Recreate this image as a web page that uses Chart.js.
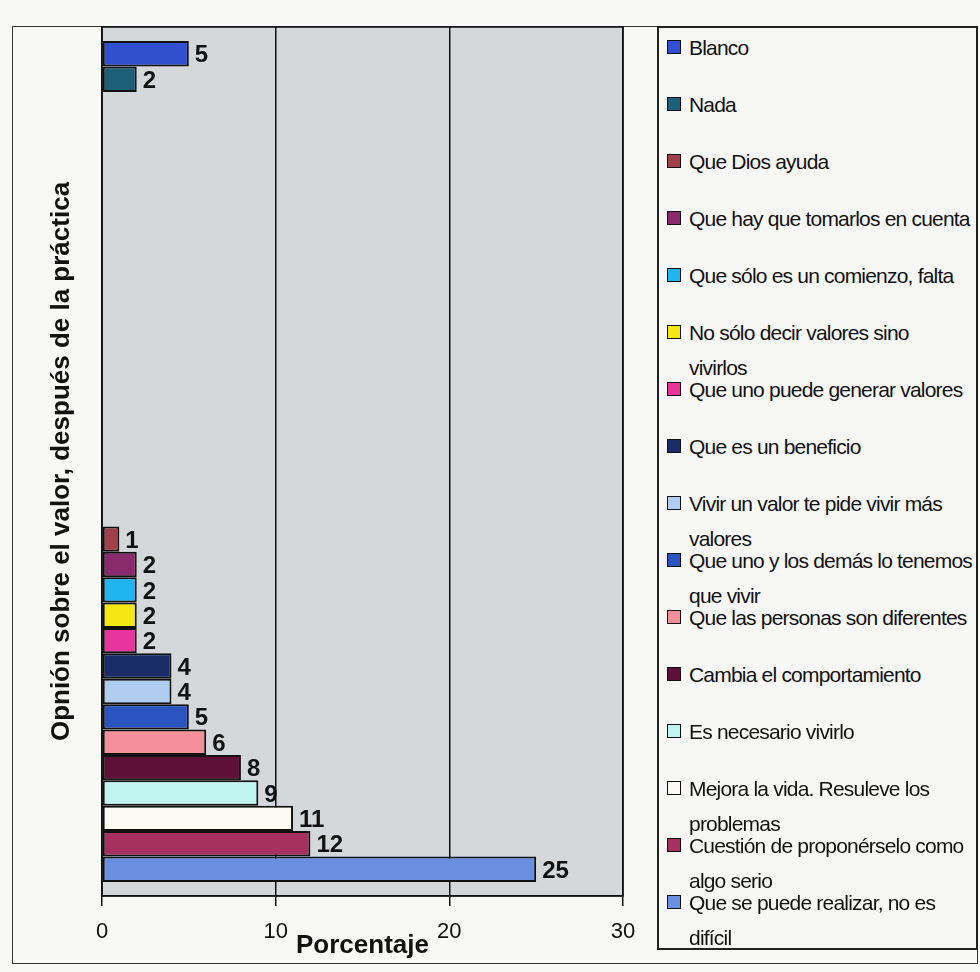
<!DOCTYPE html>
<html>
<head>
<meta charset="utf-8">
<script src="https://cdn.jsdelivr.net/npm/chart.js@4.4.1/dist/chart.umd.min.js"></script>
<style>
    html, body { margin: 0; padding: 0; background: #f8f8f6; }
    #wrap { position: relative; width: 980px; height: 972px; }
    #frame { position: absolute; left: 12px; top: 26px; width: 966px; height: 938px; border: 1.5px solid #333; box-sizing: border-box; }
    #chart { position: absolute; left: 0; top: 0; }
    #legend { position: absolute; left: 657px; top: 26px; width: 321px; height: 924px; border: 2px solid #222; box-sizing: border-box; background: #f7f7f6; }
    .item { position: absolute; left: 8px; width: 300px; font-family: Arial, "Liberation Sans", sans-serif; font-size: 21px; letter-spacing: -0.8px; line-height: 35px; color: #111; white-space: nowrap; }
    .box { position: absolute; left: 0; top: 10px; width: 12px; height: 12px; border: 1.5px solid #111; }
    .txt { position: absolute; left: 22px; }
</style>
</head>
<body>
<div id="wrap">
    <div id="frame"></div>
    <canvas id="chart" width="980" height="972"></canvas>
    <div id="legend"></div>
</div>
<script>
    // two groups on the category axis (labels hidden)
    const categories = ['', ''];

    const seriesNames = [
        'Blanco',
        'Nada',
        'Que Dios ayuda',
        'Que hay que tomarlos en cuenta',
        'Que sólo es un comienzo, falta',
        'No sólo decir valores sino vivirlos',
        'Que uno puede generar valores',
        'Que es un beneficio',
        'Vivir un valor te pide vivir más valores',
        'Que uno y los demás lo tenemos que vivir',
        'Que las personas son diferentes',
        'Cambia el comportamiento',
        'Es necesario vivirlo',
        'Mejora la vida. Resuleve los problemas',
        'Cuestión de proponérselo como algo serio',
        'Que se puede realizar, no es difícil'
    ];

    // percentages, upper group and lower group
    const upperValues = [5, 2, null, null, null, null, null, null, null, null, null, null, null, null, null, null];
    const lowerValues = [null, null, 1, 2, 2, 2, 2, 4, 4, 5, 6, 8, 9, 11, 12, 25];

    const seriesColors = [
        '#3050d0', '#1d5f78', '#a04048', '#8a2a6c', '#20b4f0', '#f5e812', '#e8349c', '#1a2c68',
        '#b0ccf0', '#2a55c0', '#f4909a', '#5e1038', '#c0f4f0', '#fbfbf4', '#a83060', '#6a8ee0'
    ];

    const xTicks = [0, 10, 20, 30];

    // words kept on the first legend line (0 = no wrap)
    const legendFirstLineWords = [0, 0, 0, 0, 0, 5, 0, 0, 7, 7, 0, 0, 0, 5, 4, 6];

    const datasets = seriesNames.map((name, i) => ({
        label: name,
        data: [upperValues[i], lowerValues[i]],
        backgroundColor: seriesColors[i],
        borderColor: '#111',
        borderWidth: 2,
        borderSkipped: false,
        barPercentage: 1,
        categoryPercentage: 0.935
    }));

    // grey plot area with black frame
    const plotArea = {
        id: 'plotArea',
        beforeDraw(chart) {
            const { ctx, chartArea: a } = chart;
            ctx.save();
            ctx.fillStyle = '#d5d8da';
            ctx.fillRect(a.left, a.top, a.right - a.left, a.bottom - a.top);
            ctx.restore();
        },
        afterDraw(chart) {
            const { ctx, chartArea: a } = chart;
            ctx.save();
            ctx.strokeStyle = '#111';
            ctx.lineWidth = 1.5;
            ctx.strokeRect(a.left, a.top, a.right - a.left, a.bottom - a.top);
            ctx.restore();
        }
    };

    // value labels at the end of each bar
    const barValues = {
        id: 'barValues',
        afterDatasetsDraw(chart) {
            const ctx = chart.ctx;
            ctx.save();
            ctx.font = 'bold 24px Arial, "Liberation Sans", sans-serif';
            ctx.fillStyle = '#111';
            ctx.textBaseline = 'middle';
            chart.data.datasets.forEach((ds, i) => {
                chart.getDatasetMeta(i).data.forEach((bar, j) => {
                    const v = ds.data[j];
                    if (v === null || v === undefined) return;
                    ctx.fillText(String(v), bar.x + 6, bar.y + 2);
                });
            });
            ctx.restore();
        }
    };

    new Chart(document.getElementById('chart'), {
        type: 'bar',
        data: { labels: categories, datasets: datasets },
        options: {
            indexAxis: 'y',
            responsive: false,
            animation: false,
            layout: { padding: { left: 0, top: 27, right: 357, bottom: 0 } },
            plugins: {
                legend: { display: false },
                tooltip: { enabled: false }
            },
            scales: {
                x: {
                    min: 0,
                    max: 30,
                    afterBuildTicks(scale) {
                        scale.ticks = xTicks.map(v => ({ value: v }));
                    },
                    afterFit(scale) { scale.height = 76; },
                    grid: { color: '#111', lineWidth: 1.5, tickLength: 10, drawTicks: true },
                    border: { display: true, color: '#111', width: 1.5 },
                    ticks: { color: '#111', padding: 13, font: { family: 'Arial, "Liberation Sans", sans-serif', size: 22 } },
                    title: {
                        display: true,
                        text: 'Porcentaje',
                        color: '#111',
                        padding: { top: 0, bottom: 11 },
                        font: { family: 'Arial, "Liberation Sans", sans-serif', size: 26, weight: 'bold' }
                    }
                },
                y: {
                    afterFit(scale) { scale.width = 102; },
                    grid: { display: false },
                    border: { display: true, color: '#111', width: 1.5 },
                    ticks: { display: false },
                    title: {
                        display: true,
                        text: 'Opnión sobre el valor, después de la práctica',
                        color: '#111',
                        padding: { top: 46, bottom: 0 },
                        font: { family: 'Arial, "Liberation Sans", sans-serif', size: 26, weight: 'bold' }
                    }
                }
            }
        },
        plugins: [plotArea, barValues]
    });

    // legend on the right, one slot per series
    const legend = document.getElementById('legend');
    seriesNames.forEach((name, i) => {
        const item = document.createElement('div');
        item.className = 'item';
        item.style.top = (2 + i * 57) + 'px';
        const box = document.createElement('div');
        box.className = 'box';
        box.style.background = seriesColors[i];
        const txt = document.createElement('div');
        txt.className = 'txt';
        const words = name.split(' ');
        const n = legendFirstLineWords[i];
        if (n > 0) {
            txt.appendChild(document.createTextNode(words.slice(0, n).join(' ')));
            txt.appendChild(document.createElement('br'));
            txt.appendChild(document.createTextNode(words.slice(n).join(' ')));
        } else {
            txt.textContent = name;
        }
        item.appendChild(box);
        item.appendChild(txt);
        legend.appendChild(item);
    });
</script>
</body>
</html>
